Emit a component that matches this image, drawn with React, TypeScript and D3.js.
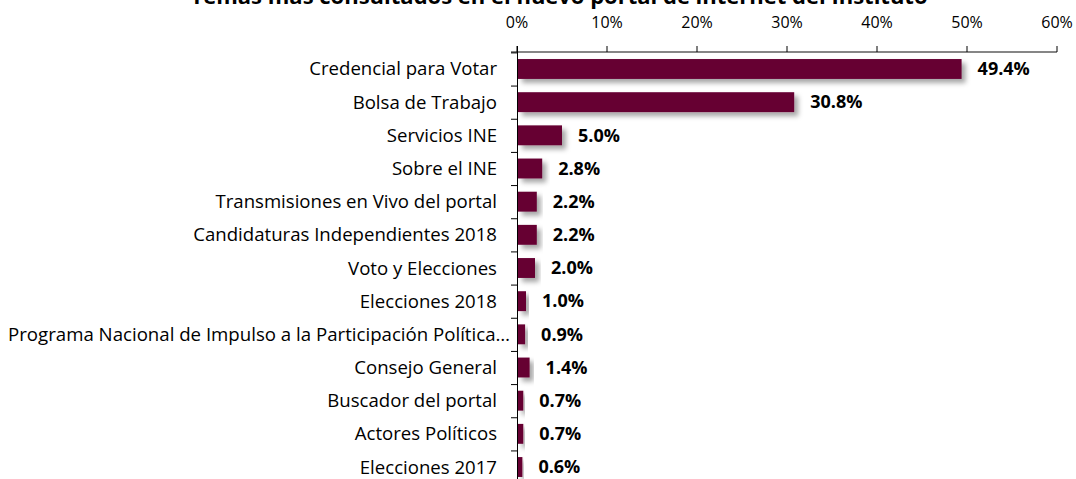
import React from "react";
import * as d3 from "d3";

const categories = [
  "Credencial para Votar",
  "Bolsa de Trabajo",
  "Servicios INE",
  "Sobre el INE",
  "Transmisiones en Vivo del portal",
  "Candidaturas Independientes 2018",
  "Voto y Elecciones",
  "Elecciones 2018",
  "Programa Nacional de Impulso a la Participación Política…",
  "Consejo General",
  "Buscador del portal",
  "Actores Políticos",
  "Elecciones 2017",
];
const values = [49.4, 30.8, 5.0, 2.8, 2.2, 2.2, 2.0, 1.0, 0.9, 1.4, 0.7, 0.7, 0.6];
const tickValues = [0, 10, 20, 30, 40, 50, 60];
const title = "Temas más consultados en el nuevo portal de internet del Instituto";

const W = 1076;
const H = 479;
const FONT = "'Open Sans', 'Noto Sans', sans-serif";

export default function App() {
  const x = d3.scaleLinear().domain([0, 60]).range([517, 1057]);
  const y = d3
    .scaleBand<string>()
    .domain(categories)
    .range([52.4, 483.6])
    .paddingInner(0.4)
    .paddingOuter(0.2);
  const step = y.step();
  const axisY = 52;

  return (
    <svg
      width={W}
      height={H}
      style={{ position: "absolute", left: 0, top: 0, background: "#fff" }}
      fontFamily={FONT}
    >
      <defs>
        <filter id="shadow" x="-20%" y="-50%" width="150%" height="250%">
          <feDropShadow dx="4" dy="4" stdDeviation="2.5" floodColor="#000" floodOpacity="0.35" />
        </filter>
      </defs>
      <text x={559} y={4} textAnchor="middle" fontWeight="bold" fontSize={22} fill="#000">
        {title}
      </text>

      {/* top axis */}
      <line x1={511} x2={x(60)} y1={axisY} y2={axisY} stroke="#868686" strokeWidth={2} />
      {tickValues.map((t) => (
        <g key={t}>
          <line x1={x(t)} x2={x(t)} y1={axisY - 6} y2={axisY} stroke="#000" strokeWidth={1} />
          <text x={x(t)} y={axisY - 24} textAnchor="middle" fontSize={16} fill="#000">
            {t}%
          </text>
        </g>
      ))}

      {/* vertical axis */}
      <line x1={517.5} x2={517.5} y1={axisY - 6} y2={H} stroke="#000" strokeWidth={1} />
      {categories.map((c, i) => {
        const yb = (y(c) as number) - (step - y.bandwidth()) / 2;
        return (
          <line key={"t" + i} x1={511} x2={517} y1={yb + 0.5} y2={yb + 0.5} stroke="#000" strokeWidth={1} />
        );
      })}

      {/* bars */}
      {categories.map((c, i) => {
        const yy = y(c) as number;
        const truncated = c.endsWith("…");
        return (
          <g key={c}>
            <rect
              x={x(0) + 1}
              y={yy}
              width={x(values[i]) - x(0) - 1}
              height={y.bandwidth()}
              fill="#660033"
              filter="url(#shadow)"
            />
            <text
              x={truncated ? 510 : 497}
              y={yy + y.bandwidth() / 2}
              dy="0.35em"
              textAnchor="end"
              fontSize={18.6}
              fill="#000"
              textLength={truncated ? 502 : undefined}
              lengthAdjust={truncated ? "spacingAndGlyphs" : undefined}
            >
              {c}
            </text>
            <text
              x={x(values[i]) + 16}
              y={yy + y.bandwidth() / 2}
              dy="0.35em"
              fontSize={18}
              fontWeight="bold"
              fill="#000"
            >
              {values[i].toFixed(1)}%
            </text>
          </g>
        );
      })}
    </svg>
  );
}
